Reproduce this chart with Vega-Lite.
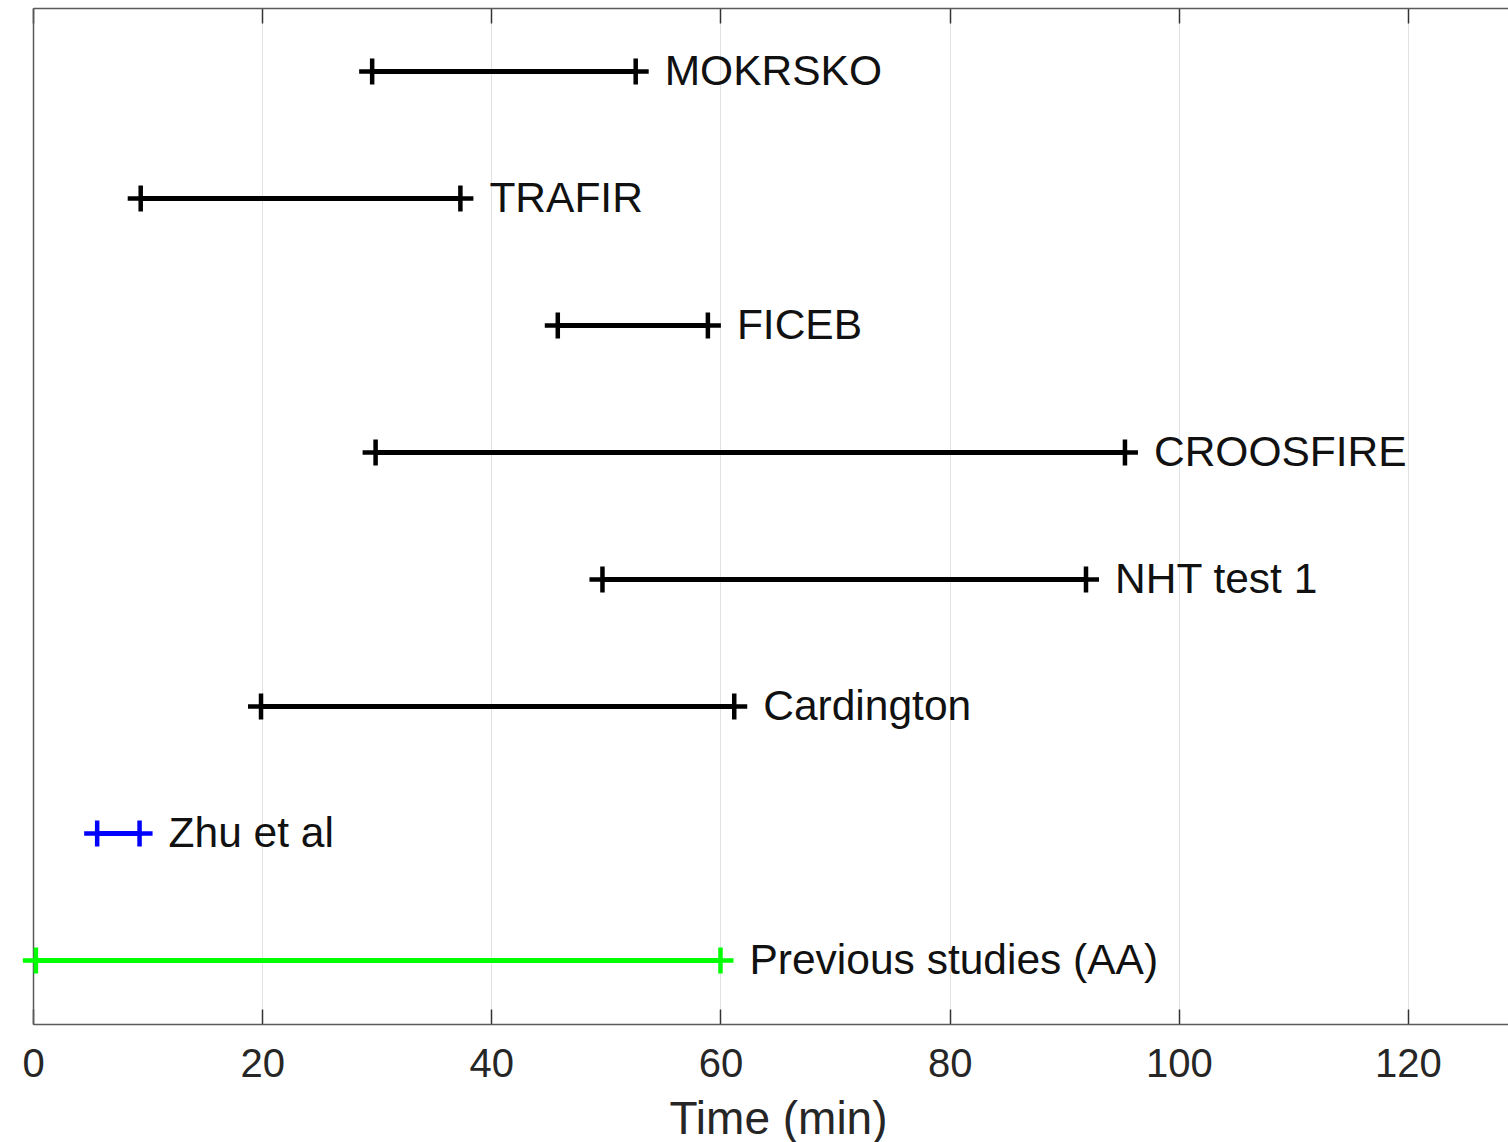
{
  "$schema": "https://vega.github.io/schema/vega-lite/v6.json",
  "width": 1475,
  "height": 1016,
  "autosize": {"type": "none"},
  "padding": {"left": 33, "top": 8, "right": 0, "bottom": 118},
  "background": "white",
  "config": {
    "font": "Liberation Sans",
    "view": {"stroke": null}
  },
  "data": {
    "values": [
      {"name": "MOKRSKO", "start": 29.6, "end": 52.6, "color": "#000000"},
      {"name": "TRAFIR", "start": 9.4, "end": 37.3, "color": "#000000"},
      {"name": "FICEB", "start": 45.8, "end": 58.9, "color": "#000000"},
      {"name": "CROOSFIRE", "start": 29.9, "end": 95.3, "color": "#000000"},
      {"name": "NHT test 1", "start": 49.7, "end": 91.9, "color": "#000000"},
      {"name": "Cardington", "start": 19.9, "end": 61.2, "color": "#000000"},
      {"name": "Zhu et al", "start": 5.6, "end": 9.3, "color": "#0000ff"},
      {"name": "Previous studies (AA)", "start": 0.25, "end": 60.0, "color": "#00ff00"}
    ]
  },
  "encoding": {
    "y": {
      "field": "name",
      "type": "nominal",
      "sort": null,
      "scale": {"type": "point", "padding": 0.5},
      "axis": {"orient": "left", "labels": false, "ticks": false, "grid": false, "title": null, "domain": true, "domainColor": "#5a5a5a", "domainWidth": 1.5}
    }
  },
  "layer": [
    {
      "mark": {"type": "rule", "strokeWidth": 5},
      "encoding": {
        "x": {
          "field": "start",
          "type": "quantitative",
          "scale": {"domain": [0, 128.73], "nice": false, "zero": false},
          "axis": {
            "orient": "bottom",
            "values": [0, 20, 40, 60, 80, 100, 120],
            "grid": true,
            "gridColor": "#e2e2e2",
            "gridWidth": 1,
            "tickSize": -15,
            "tickColor": "#333333",
            "tickWidth": 1.5,
            "domainColor": "#5a5a5a",
            "domainWidth": 1.5,
            "labelFontSize": 40,
            "labelColor": "#262626",
            "labelPadding": 35,
            "labelFlush": false,
            "title": "Time (min)",
            "titleFontSize": 46,
            "titleFontWeight": "normal",
            "titleColor": "#262626",
            "titlePadding": 13,
            "titleX": 745,
            "titleAnchor": null,
            "titleAlign": "center"
          }
        },
        "x2": {"field": "end"},
        "color": {"field": "color", "type": "nominal", "scale": null}
      }
    },
    {
      "mark": {"type": "point", "shape": "M-1,0H1M0,-1V1", "filled": false, "strokeWidth": 4.5, "size": 676, "opacity": 1},
      "encoding": {
        "x": {
          "field": "start",
          "type": "quantitative",
          "axis": {
            "orient": "top",
            "values": [0, 20, 40, 60, 80, 100, 120],
            "labels": false,
            "grid": false,
            "tickSize": -15,
            "tickColor": "#333333",
            "tickWidth": 1.5,
            "domainColor": "#5a5a5a",
            "domainWidth": 1.5,
            "title": null
          }
        },
        "color": {"field": "color", "type": "nominal", "scale": null}
      }
    },
    {
      "mark": {"type": "point", "shape": "M-1,0H1M0,-1V1", "filled": false, "strokeWidth": 4.5, "size": 676, "opacity": 1},
      "encoding": {
        "x": {"field": "end", "type": "quantitative", "axis": null},
        "color": {"field": "color", "type": "nominal", "scale": null}
      }
    },
    {
      "mark": {"type": "text", "align": "left", "baseline": "middle", "dx": 29, "fontSize": 42.5, "color": "#111111"},
      "encoding": {
        "x": {"field": "end", "type": "quantitative", "axis": null},
        "text": {"field": "name"}
      }
    }
  ],
  "resolve": {"axis": {"x": "independent"}}
}
